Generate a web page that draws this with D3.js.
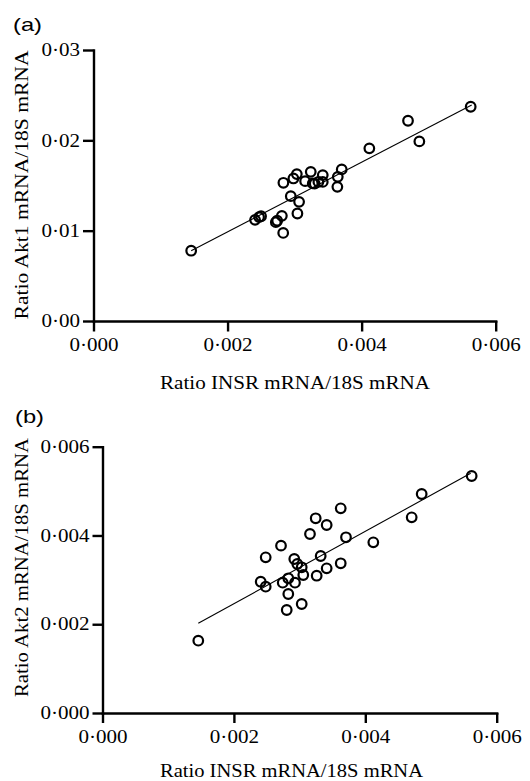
<!DOCTYPE html>
<html lang="en">
<head>
<meta charset="utf-8">
<title>INSR vs Akt</title>
<script src="https://d3js.org/d3.v7.min.js"></script>
<style>
  body { margin: 0; background: #fff; }
  svg { display: block; }
  .tick text { font-family: "Liberation Serif", "Times New Roman", serif; font-size: 18px; fill: #000; }
  .title { font-family: "Liberation Serif", "Times New Roman", serif; font-size: 18.5px; fill: #000; }
  .panel-label { font-family: "Liberation Sans", Arial, sans-serif; font-size: 19px; fill: #000; }
</style>
</head>
<body>
<div id="chart"></div>
<script>
// x values shared axis
const xTicks = [0, 0.002, 0.004, 0.006];
const xTickLabels = ["0·000", "0·002", "0·004", "0·006"];

// panel (a): INSR vs Akt1
const insrA = [0.001457, 0.00241, 0.00247, 0.0025, 0.00272, 0.00274, 0.00281, 0.00283, 0.002833,
  0.002943, 0.002982, 0.003033, 0.003067, 0.003042, 0.003157, 0.003241, 0.003271, 0.0033,
  0.003355, 0.00342, 0.00342, 0.003644, 0.003638, 0.003703, 0.004115, 0.004692, 0.004861, 0.005627];
const akt1 = [0.00778, 0.0112, 0.0115, 0.0116, 0.01094, 0.0111, 0.01164, 0.00975, 0.0153,
  0.01382, 0.01578, 0.01626, 0.01319, 0.0119, 0.01548, 0.01651, 0.01523, 0.0152,
  0.0154, 0.01615, 0.0154, 0.01596, 0.01485, 0.01678, 0.01911, 0.02217, 0.01988, 0.02372];
const yTicksA = [0, 0.01, 0.02, 0.03];
const yTickLabelsA = ["0·00", "0·01", "0·02", "0·03"];
const fitAX = [0.001457, 0.005642];
const fitAY = [0.00778, 0.02391];

// panel (b): INSR vs Akt2
const insrB = [0.001458, 0.002408, 0.002484, 0.002484, 0.002717, 0.002743, 0.002804, 0.002828, 0.002828,
  0.00293, 0.002919, 0.002965, 0.003032, 0.003032, 0.003056, 0.003158, 0.003245, 0.00326,
  0.003321, 0.003412, 0.003412, 0.003626, 0.003626, 0.003706, 0.004122, 0.004706, 0.004858, 0.005619];
const akt2 = [0.001629, 0.002958, 0.002846, 0.003508, 0.00377, 0.002936, 0.002321, 0.002681, 0.003035,
  0.002936, 0.00347, 0.003357, 0.003283, 0.002456, 0.003109, 0.004033, 0.004387, 0.003093,
  0.003537, 0.004236, 0.00326, 0.004612, 0.003373, 0.003959, 0.003846, 0.004409, 0.004934, 0.00534];
const yTicksB = [0, 0.002, 0.004, 0.006];
const yTickLabelsB = ["0·000", "0·002", "0·004", "0·006"];
const fitBX = [0.001458, 0.005604];
const fitBY = [0.002021, 0.005401];

const W = 530, H = 781;
const svg = d3.select("#chart").append("svg")
  .attr("width", W)
  .attr("height", H);

// the original type is set a bit wide, stretch tick labels to match
function widen(sel, k) {
  sel.selectAll(".tick text").each(function () {
    const len = this.getComputedTextLength();
    d3.select(this)
      .attr("textLength", len * k)
      .attr("lengthAdjust", "spacingAndGlyphs");
  });
}

function drawPanel(p) {
  const g = svg.append("g");

  const x = d3.scaleLinear().domain([0, 0.006]).range([p.left, p.right]);
  const y = d3.scaleLinear().domain([0, p.yMax]).range([p.bottom, p.top]);

  // x axis
  const xAxis = g.append("g")
    .attr("transform", `translate(0, ${p.bottom})`)
    .call(d3.axisBottom(x)
      .tickValues(xTicks)
      .tickFormat((d, i) => xTickLabels[i])
      .tickSize(p.tickLen)
      .tickSizeOuter(0)
      .tickPadding(p.xPad));

  // y axis
  const yAxis = g.append("g")
    .attr("transform", `translate(${p.left}, 0)`)
    .call(d3.axisLeft(y)
      .tickValues(p.yTicks)
      .tickFormat((d, i) => p.yLabels[i])
      .tickSize(p.tickLen)
      .tickSizeOuter(0)
      .tickPadding(3));

  [xAxis, yAxis].forEach(a => {
    a.select(".domain").attr("stroke", "#000").attr("stroke-width", 2.4).attr("stroke-linecap", "square");
    a.selectAll(".tick line").attr("stroke", "#000").attr("stroke-width", 2.4);
    widen(a, 1.17);
  });

  // regression line
  const line = d3.line().x(d => x(d[0])).y(d => y(d[1]));
  g.append("path")
    .datum(p.fitX.map((v, i) => [v, p.fitY[i]]))
    .attr("d", line)
    .attr("fill", "none")
    .attr("stroke", "#000")
    .attr("stroke-width", 1.1);

  // points
  g.selectAll("circle")
    .data(p.xs.map((v, i) => [v, p.ys[i]]))
    .join("circle")
    .attr("cx", d => x(d[0]))
    .attr("cy", d => y(d[1]))
    .attr("r", 4.8)
    .attr("fill", "none")
    .attr("stroke", "#000")
    .attr("stroke-width", 2.2);

  // axis titles
  g.append("text")
    .attr("class", "title")
    .attr("x", p.xTitleX)
    .attr("y", p.xTitleY)
    .attr("text-anchor", "middle")
    .attr("textLength", p.xTitleLen)
    .attr("lengthAdjust", "spacingAndGlyphs")
    .text("Ratio INSR mRNA/18S mRNA");

  g.append("text")
    .attr("class", "title")
    .attr("transform", `translate(${p.yTitleX}, ${p.yTitleY}) rotate(-90)`)
    .attr("text-anchor", "middle")
    .attr("textLength", p.yTitleLen)
    .attr("lengthAdjust", "spacingAndGlyphs")
    .text(p.yTitle);

  // panel letter
  g.append("text")
    .attr("class", "panel-label")
    .attr("x", p.labelX)
    .attr("y", p.labelY)
    .attr("textLength", 29)
    .attr("lengthAdjust", "spacingAndGlyphs")
    .text(p.label);
}

drawPanel({
  left: 93.5, right: 495.7, top: 50, bottom: 321, yMax: 0.03,
  tickLen: 10.5, xPad: 7,
  yTicks: yTicksA, yLabels: yTickLabelsA,
  xs: insrA, ys: akt1, fitX: fitAX, fitY: fitAY,
  xTitleX: 295, xTitleY: 389, xTitleLen: 270,
  yTitleX: 28, yTitleY: 185, yTitleLen: 269, yTitle: "Ratio Akt1 mRNA/18S mRNA",
  label: "(a)", labelX: 13, labelY: 31
});

drawPanel({
  left: 102.5, right: 496.7, top: 446.7, bottom: 713, yMax: 0.006,
  tickLen: 10, xPad: 7,
  yTicks: yTicksB, yLabels: yTickLabelsB,
  xs: insrB, ys: akt2, fitX: fitBX, fitY: fitBY,
  xTitleX: 291.5, xTitleY: 776.5, xTitleLen: 263,
  yTitleX: 28, yTitleY: 567.5, yTitleLen: 259, yTitle: "Ratio Akt2 mRNA/18S mRNA",
  label: "(b)", labelX: 15, labelY: 423
});
</script>
</body>
</html>
